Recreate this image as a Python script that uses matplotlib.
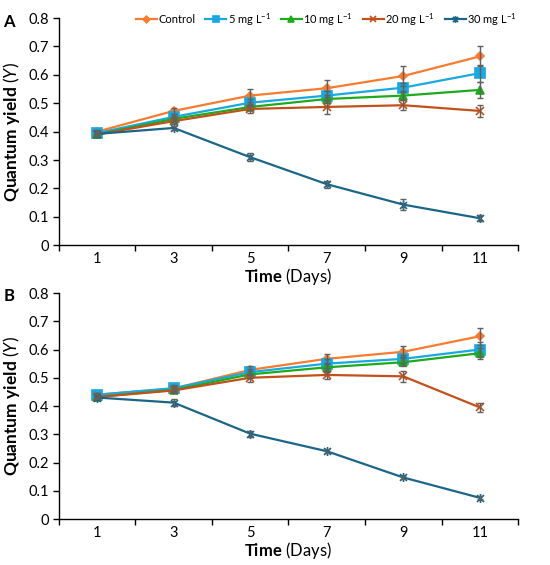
import matplotlib
matplotlib.use("Agg")
import matplotlib.pyplot as plt
from matplotlib.path import Path
import numpy as np

# data
days = [1, 3, 5, 7, 9, 11]
series_names = ["Control", "5 mg L$^{-1}$", "10 mg L$^{-1}$", "20 mg L$^{-1}$", "30 mg L$^{-1}$"]

a_control = [0.400, 0.473, 0.527, 0.553, 0.596, 0.665]
a_5mg = [0.395, 0.452, 0.502, 0.527, 0.555, 0.606]
a_10mg = [0.390, 0.445, 0.487, 0.515, 0.527, 0.547]
a_20mg = [0.390, 0.437, 0.480, 0.487, 0.493, 0.473]
a_30mg = [0.392, 0.413, 0.310, 0.215, 0.143, 0.095]

a_control_err = [0.006, 0.010, 0.022, 0.030, 0.035, 0.035]
a_5mg_err = [0.005, 0.010, 0.012, 0.015, 0.015, 0.030]
a_10mg_err = [0.005, 0.010, 0.010, 0.015, 0.015, 0.028]
a_20mg_err = [0.005, 0.010, 0.015, 0.025, 0.018, 0.022]
a_30mg_err = [0.005, 0.008, 0.015, 0.012, 0.020, 0.010]

b_control = [0.440, 0.462, 0.528, 0.567, 0.592, 0.647]
b_5mg = [0.440, 0.463, 0.520, 0.550, 0.567, 0.600]
b_10mg = [0.432, 0.457, 0.512, 0.537, 0.555, 0.587]
b_20mg = [0.432, 0.455, 0.500, 0.510, 0.505, 0.395]
b_30mg = [0.430, 0.412, 0.302, 0.240, 0.147, 0.075]

b_control_err = [0.005, 0.010, 0.015, 0.018, 0.020, 0.030]
b_5mg_err = [0.005, 0.010, 0.012, 0.015, 0.015, 0.025]
b_10mg_err = [0.005, 0.008, 0.012, 0.015, 0.015, 0.020]
b_20mg_err = [0.005, 0.010, 0.015, 0.015, 0.020, 0.015]
b_30mg_err = [0.005, 0.012, 0.010, 0.008, 0.007, 0.005]

y_ticks = [0, 0.1, 0.2, 0.3, 0.4, 0.5, 0.6, 0.7, 0.8]
y_tick_labels = ["0", "0.1", "0.2", "0.3", "0.4", "0.5", "0.6", "0.7", "0.8"]

# Excel style star marker: an x with a vertical bar through it
star = Path([(-1, -1), (1, 1), (-1, 1), (1, -1), (0, -1.3), (0, 1.3)],
            [Path.MOVETO, Path.LINETO, Path.MOVETO, Path.LINETO, Path.MOVETO, Path.LINETO])

# styles
colors = ["#F97B2F", "#19A8E0", "#1DAA1D", "#C2501A", "#1B6688"]
markers = ["D", "s", "^", "x", star]
msizes = [4.5, 6.5, 5.5, 5.5, 6.5]
ERR_COLOR = "#606060"

plt.rcParams["font.family"] = ["Lato", "DejaVu Sans"]
plt.rcParams["mathtext.fontset"] = "custom"
plt.rcParams["mathtext.rm"] = "Lato"
plt.rcParams["mathtext.it"] = "Lato:italic"
plt.rcParams["mathtext.bf"] = "Lato:bold"

fig = plt.figure(figsize=(5.5, 5.65), dpi=100)
ax_a = fig.add_axes([0.107, 0.566, 0.835, 0.402])
ax_b = fig.add_axes([0.107, 0.0814, 0.835, 0.400])

panels = [
    (ax_a, [a_control, a_5mg, a_10mg, a_20mg, a_30mg],
     [a_control_err, a_5mg_err, a_10mg_err, a_20mg_err, a_30mg_err]),
    (ax_b, [b_control, b_5mg, b_10mg, b_20mg, b_30mg],
     [b_control_err, b_5mg_err, b_10mg_err, b_20mg_err, b_30mg_err]),
]

for ax, vals, errs in panels:
    for i in range(len(vals)):
        ax.errorbar(days, vals[i], yerr=errs[i], fmt="none", ecolor=ERR_COLOR,
                    elinewidth=1.0, capsize=2.5, capthick=1.0, zorder=4)
        ax.plot(days, vals[i], color=colors[i], marker=markers[i], markersize=msizes[i],
                markeredgewidth=1.2, linewidth=1.6, label=series_names[i], zorder=3)
    ax.set_xlim(0, 12)
    ax.set_ylim(0, 0.8)
    ax.set_xticks([0, 2, 4, 6, 8, 10, 12])
    ax.set_xticklabels([])
    ax.set_xticks(days, minor=True)
    ax.set_xticklabels([str(d) for d in days], minor=True, fontsize=10.5)
    ax.tick_params(axis="x", which="minor", length=0, pad=5)
    ax.tick_params(axis="x", which="major", length=4, width=1, direction="out")
    ax.set_yticks(y_ticks)
    ax.set_yticklabels(y_tick_labels, fontsize=10.5)
    ax.tick_params(axis="y", length=4, width=1, direction="out", pad=3)
    for s in ["top", "right"]:
        ax.spines[s].set_visible(False)
    for s in ["left", "bottom"]:
        ax.spines[s].set_linewidth(1.0)
    ax.set_ylabel(r"$\bf{Quantum\ yield}$ ($\it{Y}$)", fontsize=12.5, labelpad=5)
    ax.set_xlabel(r"$\bf{Time}$ (Days)", fontsize=12, labelpad=0)

ax_a.legend(loc="upper right", bbox_to_anchor=(1.02, 1.075), ncol=5, frameon=False,
            fontsize=8, handlelength=1.9, handletextpad=0.15, columnspacing=0.85,
            markerscale=0.75)

fig.text(0.006, 0.975, "A", fontsize=12, fontweight="bold", va="top")
fig.text(0.006, 0.49, "B", fontsize=12, fontweight="bold", va="top")

fig.savefig("out.png", dpi=100)
